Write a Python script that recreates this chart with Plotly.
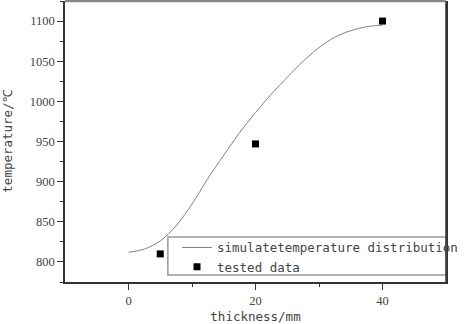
import plotly.graph_objects as go

# simulated temperature curve
sim_x = [0, 2.5, 5, 7.5, 10, 12.5, 15, 17.5, 20, 22.5, 25, 27.5, 30, 32.5, 35, 37.5, 40]
sim_y = [812, 816, 826, 845, 872, 904, 933, 961, 986, 1009, 1030, 1050, 1067, 1080, 1088, 1093, 1095]

# tested data
test_x = [5, 20, 40]
test_y = [810, 947, 1100]

x_ticks = [0, 20, 40]
y_ticks = [800, 850, 900, 950, 1000, 1050, 1100]

mono = "'DejaVu Sans Mono', monospace"
serif = "'Liberation Serif', 'Times New Roman', serif"

fig = go.Figure()
fig.add_trace(go.Scatter(
    x=sim_x, y=sim_y, mode="lines", line=dict(color="#808080", width=1, shape="spline", smoothing=0.8),
    name="simulatetemperature distribution"))
fig.add_trace(go.Scatter(
    x=test_x, y=test_y, mode="markers",
    marker=dict(symbol="square", size=7, color="black"),
    name="tested data"))

axis_common = dict(
    showgrid=False, zeroline=False, showline=True, linecolor="#333", linewidth=1.5,
    ticks="outside", ticklen=6, tickwidth=1.2, tickcolor="#333",
    tickfont=dict(family=serif, size=12.5, color="#444"),
    automargin=False,
)

fig.update_layout(
    width=474, height=324,
    margin=dict(l=65, r=28, t=1, b=42),
    paper_bgcolor="white", plot_bgcolor="white",
    showlegend=True,
    legend=dict(
        x=0.294, y=0.175, xanchor="left", yanchor="top",
        bgcolor="rgba(0,0,0,0)", borderwidth=0,
        font=dict(family=mono, size=12.5, color="#444"),
        itemwidth=30, tracegroupgap=0,
    ),
    xaxis=dict(
        range=[-10, 50], tickvals=x_ticks, mirror=False,
        minor=dict(tickvals=[10, 30], ticks="outside", ticklen=3, tickcolor="#333"),
        title=dict(text="thickness/mm", font=dict(family=mono, size=12.5, color="#444"), standoff=10),
        **axis_common),
    yaxis=dict(
        range=[775, 1125], tickvals=y_ticks, mirror=True,
        minor=dict(dtick=25, ticks="outside", ticklen=3, tickcolor="#333"),
        title=dict(text="temperature/℃", font=dict(family=mono, size=12.5, color="#444"), standoff=14),
        **axis_common),
)

# legend box (text overflows it on the right, as in the original)
fig.add_shape(type="rect", xref="paper", yref="paper", x0=0.270, x1=1.0, y0=0.025, y1=0.160,
              line=dict(color="#999", width=1.5), fillcolor="white", layer="above")
# right axis line redrawn over legend box edge
fig.add_shape(type="line", xref="paper", yref="paper", x0=1, x1=1, y0=0, y1=1,
              line=dict(color="#333", width=1.5), layer="above")
# top border
fig.add_shape(type="line", xref="paper", yref="paper", x0=0, x1=1, y0=1, y1=1,
              line=dict(color="#888", width=2.5), layer="above")

fig.write_html("out.html")
